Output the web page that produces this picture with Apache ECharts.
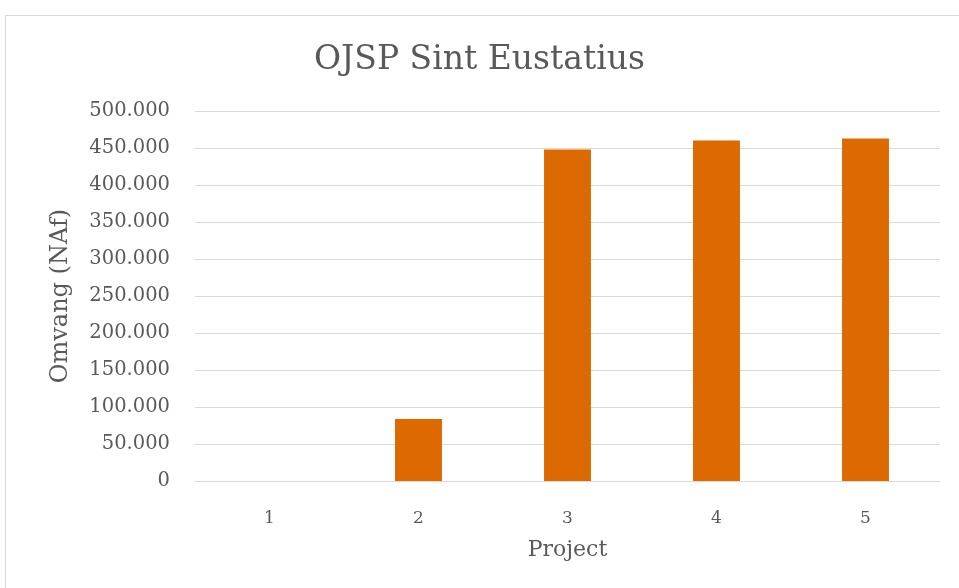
<!DOCTYPE html>
<html>
<head>
<meta charset="utf-8">
<script src="https://cdn.jsdelivr.net/npm/echarts@6/dist/echarts.min.js"></script>
<style>
  html, body { margin: 0; padding: 0; background: #fff; }
  #frame { position: absolute; left: 5px; top: 15px; width: 970px; height: 600px; border: 1px solid #d9d9d9; box-sizing: border-box; }
  #chart { position: absolute; left: 0; top: 0; width: 959px; height: 588px; }
</style>
</head>
<body>
<div id="frame"></div>
<div id="chart"></div>
<script>
// categorieën (projectnummers)
const projects = ['1', '2', '3', '4', '5'];
// omvang per project in NAf
const omvang = [0, 83800, 448000, 460000, 463000];

const font = 'DejaVu Serif';
const grey = '#595959';

let myChart = echarts.init(document.getElementById('chart'));
myChart.setOption({
  animation: false,
  title: {
    text: 'OJSP Sint Eustatius',
    left: 'center',
    top: 39,
    textStyle: { fontFamily: font, fontSize: 33, fontWeight: 'normal', color: grey }
  },
  grid: { left: 195, right: 19, top: 111, bottom: 107 },
  xAxis: {
    type: 'category',
    data: projects,
    name: 'Project',
    nameLocation: 'middle',
    nameGap: 58,
    nameTextStyle: { fontFamily: font, fontSize: 22, color: grey },
    axisLine: { lineStyle: { color: '#d9d9d9' } },
    axisTick: { show: false },
    axisLabel: { fontFamily: font, fontSize: 17, color: grey, margin: 29 }
  },
  yAxis: {
    type: 'value',
    min: 0,
    max: 500000,
    interval: 50000,
    name: 'Omvang (NAf)',
    nameLocation: 'middle',
    nameGap: 122,
    nameTextStyle: { fontFamily: font, fontSize: 24, color: grey },
    axisLine: { show: false },
    axisTick: { show: false },
    splitLine: { lineStyle: { color: '#d9d9d9', width: 1 } },
    axisLabel: {
      fontFamily: font, fontSize: 19.5, color: grey, margin: 25,
      formatter: v => v === 0 ? '0' : v.toLocaleString('de-DE')
    }
  },
  series: [{
    type: 'bar',
    data: omvang,
    barWidth: '31.5%',
    itemStyle: { color: '#dd6a00' }
  }]
});
</script>
</body>
</html>
